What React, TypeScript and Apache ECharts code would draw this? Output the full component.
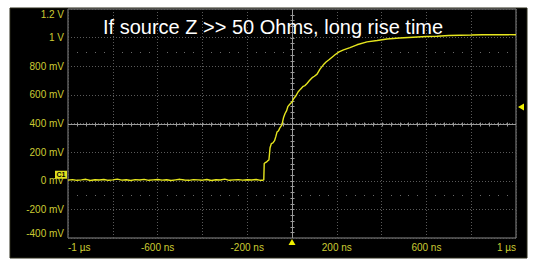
import React, { useEffect, useRef } from "react";
import * as echarts from "echarts";

// Time in ns, voltage in V (read from the scope capture)
const trace: [number, number][] = [
  [-1000, 0.004], [-980, 0.008], [-960, 0.003], [-940, 0.006], [-920, 0.01],
  [-900, 0.002], [-880, 0.007], [-860, 0.005], [-840, 0.009], [-820, 0.003],
  [-800, 0.006], [-780, 0.011], [-760, 0.004], [-740, 0.007], [-720, 0.002],
  [-700, 0.008], [-680, 0.005], [-660, 0.01], [-640, 0.003], [-620, 0.006],
  [-600, 0.009], [-580, 0.004], [-560, 0.007], [-540, 0.002], [-520, 0.006],
  [-500, 0.01], [-480, 0.005], [-460, 0.003], [-440, 0.008], [-420, 0.006],
  [-400, 0.004], [-380, 0.009], [-360, 0.002], [-340, 0.007], [-320, 0.005],
  [-300, 0.011], [-280, 0.003], [-260, 0.006], [-240, 0.008], [-220, 0.004],
  [-200, 0.007], [-180, 0.005], [-160, 0.009], [-140, 0.003], [-130, 0.004],
  [-126, 0.006], [-124, 0.12], [-121, 0.125], [-115, 0.13], [-108, 0.14],
  [-103, 0.145], [-98, 0.23], [-92, 0.26], [-85, 0.265], [-78, 0.28],
  [-72, 0.31], [-67, 0.34], [-60, 0.35], [-54, 0.37], [-45, 0.39],
  [-38, 0.44], [-31, 0.47], [-24, 0.49], [-18, 0.52], [-10, 0.535],
  [0, 0.55], [8, 0.575], [16, 0.59], [27, 0.62], [38, 0.64],
  [50, 0.66], [58, 0.665], [67, 0.68], [78, 0.7], [90, 0.72],
  [100, 0.73], [112, 0.745], [125, 0.78], [140, 0.81], [152, 0.83],
  [165, 0.845], [180, 0.865], [192, 0.88], [210, 0.9], [230, 0.915],
  [259, 0.93], [290, 0.95], [335, 0.97], [380, 0.98], [424, 0.99],
  [480, 0.997], [540, 1.003], [600, 1.008], [647, 1.01], [700, 1.015],
  [750, 1.017], [800, 1.018], [850, 1.02], [900, 1.02], [950, 1.021],
  [1000, 1.02],
];

const xLabelValues = [-1000, -600, -200, 200, 600, 1000];
const xLabelTexts = ["-1 µs", "-600 ns", "-200 ns", "200 ns", "600 ns", "1 µs"];
const yTickValues = [-0.4, -0.2, 0, 0.2, 0.4, 0.6, 0.8, 1, 1.2];
const yTickTexts = ["-400 mV", "-200 mV", "0 mV", "200 mV", "400 mV", "600 mV", "800 mV", "1 V", "1.2 V"];

const triggerTime = 0;
const triggerLevel = 0.516;
const centerLevel = 0.4;
const refLevels = [0.9, -0.1];
const titleText = "If source Z >> 50 Ohms, long rise time";

const X_MIN = -1000, X_MAX = 1000, X_DIV = 200;
const Y_MIN = -0.4, Y_MAX = 1.2, Y_DIV = 0.2;

const YELLOW_LABEL = "#cccc33";
const TRACE = "#e6e61e";

export default function App() {
  const ref = useRef<HTMLDivElement>(null);
  useEffect(() => {
    if (!ref.current) return;
    const chart = echarts.init(ref.current, undefined, { renderer: "svg" });
    const findLabel = (vals: number[], texts: string[], v: number) => {
      const i = vals.findIndex((x) => Math.abs(x - v) < 1e-6);
      return i >= 0 ? texts[i] : "";
    };
    const option: any = {
      animation: false,
      backgroundColor: "#ffffff",
      graphic: [
        {
          type: "rect",
          z: -1,
          shape: { x: 10, y: 8, width: 517, height: 250 },
          style: { fill: "#000000", stroke: "#2a2a1a", lineWidth: 1 },
        },
        {
          type: "text",
          z: 10,
          x: 103,
          y: 27,
          style: {
            text: titleText,
            fill: "#ffffff",
            font: "20px 'Liberation Sans', Arial, sans-serif",
            align: "left",
            verticalAlign: "middle",
          },
        },
      ],
      grid: {
        left: 68,
        top: 9,
        right: 18,
        bottom: 29,
        show: true,
        borderColor: "#8a8a8a",
        borderWidth: 1,
        backgroundColor: "transparent",
      },
      xAxis: {
        type: "value",
        min: X_MIN,
        max: X_MAX,
        interval: X_DIV,
        axisLine: { show: false },
        axisTick: { show: false },
        splitLine: { show: true, lineStyle: { color: "#5a5a5a", type: [1, 2], width: 1 } },
        axisLabel: {
          color: YELLOW_LABEL,
          fontSize: 10,
          fontFamily: "'Liberation Sans', Arial, sans-serif",
          margin: 4,
          alignMinLabel: "left",
          alignMaxLabel: "right",
          formatter: (v: number) => findLabel(xLabelValues, xLabelTexts, v),
        },
      },
      yAxis: {
        type: "value",
        min: Y_MIN,
        max: Y_MAX,
        interval: Y_DIV,
        axisLine: { show: false },
        axisTick: { show: false },
        splitLine: { show: true, lineStyle: { color: "#5a5a5a", type: [1, 2], width: 1 } },
        axisLabel: {
          color: YELLOW_LABEL,
          fontSize: 10,
          fontFamily: "'Liberation Sans', Arial, sans-serif",
          margin: 4,
          verticalAlignMaxLabel: "top",
          verticalAlignMinLabel: "bottom",
          formatter: (v: number) => findLabel(yTickValues, yTickTexts, v),
        },
      },
      series: [
        {
          type: "custom",
          silent: true,
          z: 1,
          data: [[0, 0]],
          renderItem: (_params: any, api: any) => {
            const children: any[] = [];
            const c = (t: number, v: number) => api.coord([t, v]);
            const crisp = (n: number) => Math.round(n) + 0.5;
            const lineStyle = { stroke: "#9a9a9a", lineWidth: 1 };
            // horizontal center line
            const h0 = c(X_MIN, centerLevel), h1 = c(X_MAX, centerLevel);
            const hy = crisp(h0[1]);
            children.push({ type: "line", shape: { x1: h0[0], y1: hy, x2: h1[0], y2: hy }, style: lineStyle });
            // vertical center line
            const v0 = c(triggerTime, Y_MIN), v1 = c(triggerTime, Y_MAX);
            const vx = crisp(v0[0]);
            children.push({ type: "line", shape: { x1: vx, y1: v0[1], x2: vx, y2: v1[1] }, style: lineStyle });
            // ticks on horizontal center line
            for (let t = X_MIN + X_DIV / 5; t < X_MAX; t += X_DIV / 5) {
              const p = c(t, centerLevel);
              const x = crisp(p[0]);
              children.push({ type: "line", shape: { x1: x, y1: hy - 2, x2: x, y2: hy + 2 }, style: lineStyle });
            }
            // ticks on vertical center line
            for (let v = Y_MIN + Y_DIV / 5; v < Y_MAX - 1e-9; v += Y_DIV / 5) {
              const p = c(triggerTime, v);
              const y = crisp(p[1]);
              children.push({ type: "line", shape: { x1: vx - 2, y1: y, x2: vx + 2, y2: y }, style: lineStyle });
            }
            // sparse reference dots
            refLevels.forEach((lv) => {
              for (let k = 1; k < 50; k++) {
                if (k % 5 === 0) continue;
                const t = X_MIN + (k * X_DIV) / 5;
                const p = c(t, lv);
                children.push({
                  type: "rect",
                  shape: { x: Math.round(p[0]), y: Math.round(p[1]), width: 1, height: 1 },
                  style: { fill: "#6a6a6a" },
                });
              }
            });
            return { type: "group", children };
          },
        },
        {
          type: "line",
          z: 3,
          data: trace,
          showSymbol: false,
          lineStyle: { color: TRACE, width: 1.4 },
          itemStyle: { color: TRACE },
          markPoint: {
            silent: true,
            animation: false,
            label: { show: false },
            data: [
              {
                coord: [triggerTime, Y_MIN],
                symbol: "triangle",
                symbolSize: [7, 6],
                symbolOffset: [0, 4],
                itemStyle: { color: "#f0f000" },
              },
              {
                coord: [X_MAX, triggerLevel],
                symbol: "triangle",
                symbolRotate: 90,
                symbolSize: [7, 6],
                symbolOffset: [5, 0],
                itemStyle: { color: "#f0f000" },
              },
              {
                coord: [X_MIN, 0],
                symbol: "rect",
                symbolSize: [12, 8],
                symbolOffset: [-7, -6],
                itemStyle: { color: "#e0e020" },
                label: {
                  show: true,
                  position: "inside",
                  formatter: "C1",
                  color: "#000000",
                  fontSize: 7,
                  fontWeight: "bold",
                  fontFamily: "'Liberation Sans', Arial, sans-serif",
                },
              },
            ],
          },
        },
      ],
    };
    chart.setOption(option);
    return () => chart.dispose();
  }, []);
  return (
    <div
      ref={ref}
      style={{ position: "fixed", left: 0, top: 0, width: 534, height: 267 }}
    />
  );
}
